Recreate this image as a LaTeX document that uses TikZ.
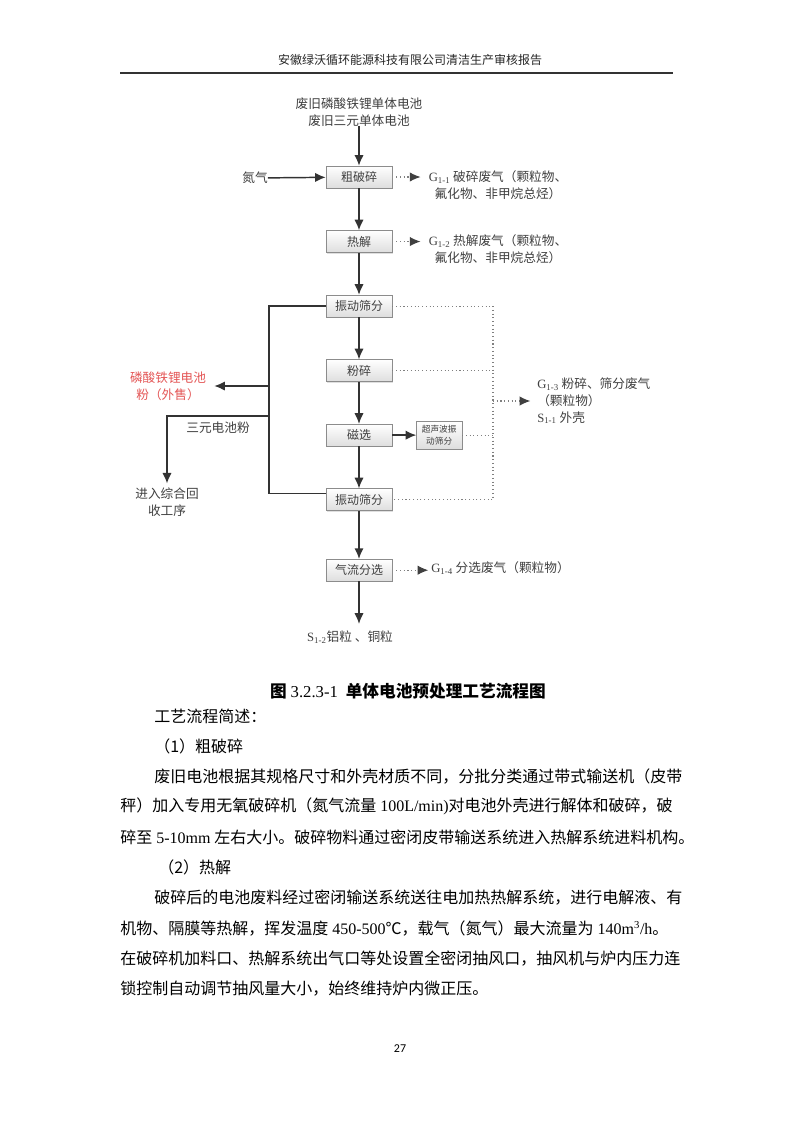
\documentclass[tikz,border=0pt]{standalone}
\usepackage{fontspec}
\setmainfont{Noto Sans CJK SC}
\newfontfamily\tnr{Liberation Serif}
\newfontfamily\pgnum{Carlito}
\usetikzlibrary{positioning,arrows.meta,shadows}
\XeTeXlinebreaklocale "zh"
\XeTeXlinebreakskip=0pt plus 1pt
\definecolor{salered}{RGB}{228,86,86}
\newcommand{\Gsub}[1]{{\tnr G\textsubscript{#1}}}
\newcommand{\Ssub}[1]{{\tnr S\textsubscript{#1}}}
\newcommand{\fullline}[1]{\makebox[421.5pt][s]{#1}}
\newcommand{\indline}[1]{\makebox[396pt][s]{#1}}
\newcommand{\gap}{\hspace{3pt}}

\begin{document}
\begin{tikzpicture}[x=0.75pt, y=-0.75pt,
  box/.style={draw=black!45, top color=white, bottom color=black!13, minimum width=49.5pt, minimum height=16.5pt, inner sep=1pt, text=black!75, font=\fontsize{9}{10}\selectfont, drop shadow={shadow xshift=0.8pt, shadow yshift=-0.8pt, opacity=0.25}},
  smallbox/.style={box, minimum width=34pt, minimum height=21pt, align=center, font=\fontsize{6.5}{8.5}\selectfont},
  link/.style={line width=1.1pt, black!80},
  arrow/.style={link, -{Latex[length=8pt,width=7pt]}},
  waste/.style={dotted, line width=0.8pt, black!50},
  wastearrow/.style={waste, -{Latex[length=8pt,width=7pt, black!75]}, shorten <=3pt},
  lab/.style={inner sep=0pt, text=black!75, font=\fontsize{9.5}{12.5}\selectfont, align=center},
  body/.style={inner sep=0pt, anchor=west, font=\fontsize{12}{14}\selectfont}
]
\path[fill=white, use as bounding box] (0,0) rectangle (793,1122);

% page header
\node[font=\fontsize{9}{10}\selectfont, text=black!85] (header) at (410,60) {安徽绿沃循环能源科技有限公司清洁生产审核报告};
\coordinate (ruleL) at (120,73);
\coordinate (ruleR) at (673,73);
\draw[line width=0.9pt, black!80] (ruleL) -- (ruleR);

% main column
\node[lab] (feed) at (359,112) {废旧磷酸铁锂单体电池\\废旧三元单体电池};
\node[box] (crush) at (359,177) {粗破碎};
\node[box, below=31.5pt of crush] (pyro) {热解};
\node[box, below=31.5pt of pyro] (sieveA) {振动筛分};
\node[box, below=31.5pt of sieveA] (mill) {粉碎};
\node[box, below=31.5pt of mill] (mag) {磁选};
\node[box, below=31.5pt of mag] (sieveB) {振动筛分};
\node[box, below=36pt of sieveB] (air) {气流分选};
\node[smallbox, right=18pt of mag] (ultra) {超声波振\\动筛分};
\node[lab] (n2) at (255,178) {氮气};
\node[lab] (s12) at (350,637) {\Ssub{1-2}铝粒 、铜粒};

% emissions
\node[lab] (g11) at (498,185) {\Gsub{1-1} 破碎废气（颗粒物、\\氟化物、非甲烷总烃）};
\node[lab] (g12) at (498,249) {\Gsub{1-2} 热解废气（颗粒物、\\氟化物、非甲烷总烃）};
\node[lab, anchor=west, align=left] (g13) at (537,401) {\Gsub{1-3} 粉碎、筛分废气\\（颗粒物）\\\Ssub{1-1} 外壳};
\node[lab, anchor=west] (g14) at (431,568) {\Gsub{1-4} 分选废气（颗粒物）};

% products on the left
\node[lab, text=salered] (lfp) at (168,386) {磷酸铁锂电池\\粉（外售）};
\node[lab] (recyc) at (167,502) {进入综合回\\收工序};
\coordinate (busx) at (269,0);
\coordinate (ncm) at (269,416);
\coordinate (collx) at (493,0);

\draw[arrow] (feed.south -| crush) -- (crush);
\draw[arrow] (n2) -- (crush);
\draw[arrow] (crush) -- (pyro);
\draw[arrow] (pyro) -- (sieveA);
\draw[arrow] (sieveA) -- (mill);
\draw[arrow] (mill) -- (mag);
\draw[arrow] (mag) -- (sieveB);
\draw[arrow] (sieveB) -- (air);
\draw[arrow] (mag) -- (ultra);
\draw[arrow, shorten >=5pt] (air.south) -- (air.south |- s12.north);

\draw[link] ([yshift=4.5pt]sieveB.west) -- ([yshift=4.5pt]sieveB.west -| busx) -- (sieveA.west -| busx) -- (sieveA.west);
\draw[arrow, shorten >=6pt] (lfp.east -| busx) -- (lfp.east);
\draw[arrow, shorten >=3pt] (ncm) -- node[lab, below=4pt] (ncmlab) {三元电池粉} (ncm -| recyc.north) -- (recyc.north);

\draw[wastearrow, shorten >=6pt] (crush.east) -- (crush.east -| g11.west);
\draw[wastearrow, shorten >=6pt] (pyro.east) -- (pyro.east -| g12.west);
\draw[waste] (sieveA.east) -- (sieveA.east -| collx) -- (sieveB.east -| collx) -- (sieveB.east);
\draw[waste] (mill.east) -- (mill.east -| collx);
\draw[waste] (ultra.east) -- (ultra.east -| collx);
\draw[wastearrow, shorten <=0pt, shorten >=5pt] (g13.west -| collx) -- (g13.west);
\draw[wastearrow, shorten >=2pt] (air.east) -- (air.east -| g14.west);

% caption and text
\node[font=\bfseries\fontsize{12.5}{14}\selectfont] (caption) at (408,691) {图 {\tnr\mdseries 3.2.3-1}\hspace{3pt} 单体电池预处理工艺流程图};
\node[body] (l1) at (154,716) {工艺流程简述：};
\node[body] (l2) at (154,746) {（1）粗破碎};
\node[body] (l3) at (154,776) {\indline{废旧电池根据其规格尺寸和外壳材质不同，分批分类通过带式输送机（皮带}};
\node[body] (l4) at (120,806) {\fullline{秤）加入专用无氧破碎机（氮气流量\gap{\tnr 100L/min)}对电池外壳进行解体和破碎，破}};
\node[body] (l5) at (120,837) {\fullline{碎至\gap{\tnr 5-10mm}\gap 左右大小。破碎物料通过密闭皮带输送系统进入热解系统进料机构。}};
\node[body] (l6) at (158,867) {（2）热解};
\node[body] (l7) at (154,898) {\indline{破碎后的电池废料经过密闭输送系统送往电加热热解系统，进行电解液、有}};
\node[body] (l8) at (120,928) {\fullline{机物、隔膜等热解，挥发温度\gap{\tnr 450-500}℃，载气（氮气）最大流量为\gap{\tnr 140m\textsuperscript{3}/h}\makebox[5pt][l]{。}}};
\node[body] (l9) at (120,959) {\fullline{在破碎机加料口、热解系统出气口等处设置全密闭抽风口，抽风机与炉内压力连}};
\node[body] (l10) at (120,989) {锁控制自动调节抽风量大小，始终维持炉内微正压。};
\node[font=\pgnum\fontsize{9}{10}\selectfont] (pageno) at (400,1049) {27};
\end{tikzpicture}
\end{document}
